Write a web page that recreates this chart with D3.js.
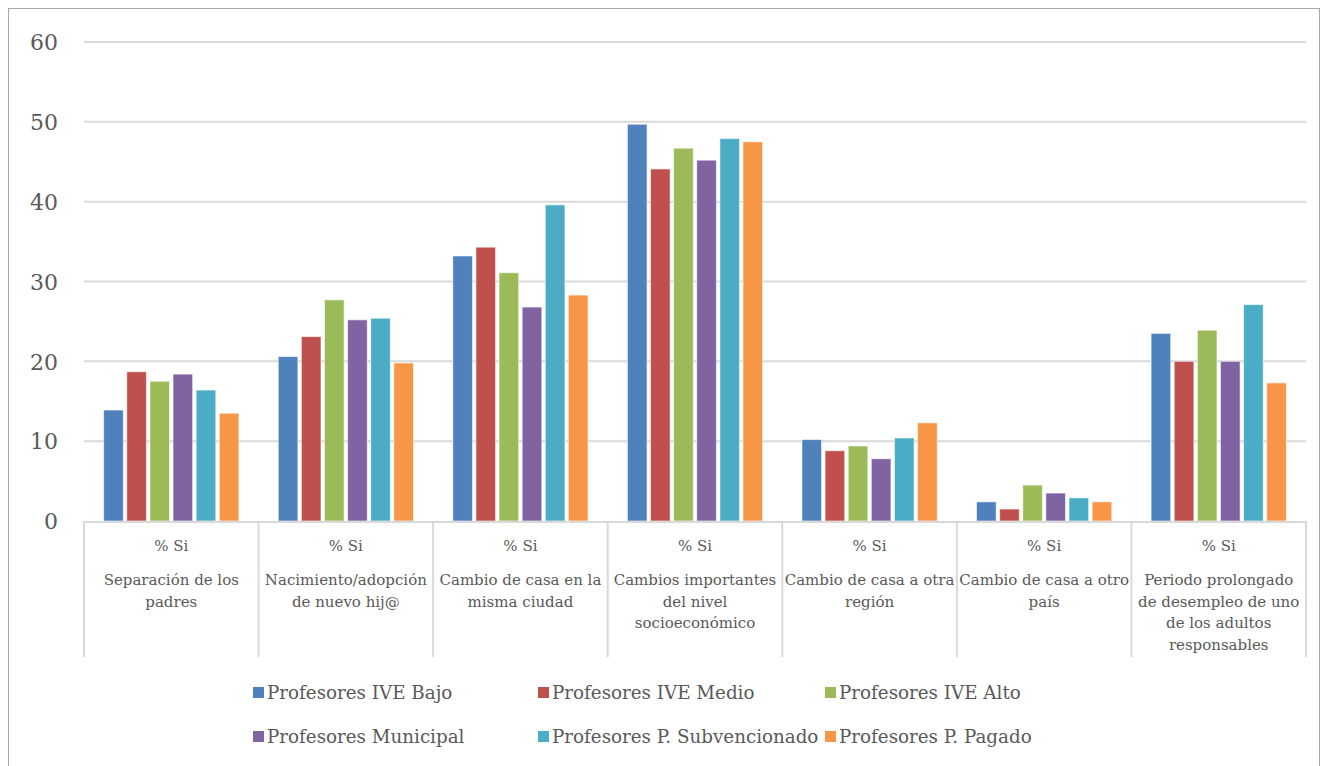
<!DOCTYPE html>
<html><head><meta charset="utf-8">
<script src="https://cdn.jsdelivr.net/npm/d3@7"></script>
<style>body{margin:0;background:#fff}svg{display:block}text{font-family:"DejaVu Serif","Liberation Serif",serif}</style>
</head><body><svg id="c" width="1327" height="766"></svg>
<script>
const categories = [
  ["% Si","Separación de los","padres"],
  ["% Si","Nacimiento/adopción","de nuevo hij@"],
  ["% Si","Cambio de casa en la","misma ciudad"],
  ["% Si","Cambios importantes","del nivel","socioeconómico"],
  ["% Si","Cambio de casa a otra","región"],
  ["% Si","Cambio de casa a otro","país"],
  ["% Si","Periodo prolongado","de desempleo de uno","de los adultos","responsables"]
];
const series = ["Profesores IVE Bajo","Profesores IVE Medio","Profesores IVE Alto","Profesores Municipal","Profesores P. Subvencionado","Profesores P. Pagado"];
const ivBajo   = [13.9, 20.6, 33.2, 49.7, 10.2, 2.4, 23.5];
const ivMedio  = [18.7, 23.1, 34.3, 44.1, 8.8, 1.5, 20.0];
const ivAlto   = [17.5, 27.7, 31.1, 46.7, 9.4, 4.5, 23.9];
const municipal= [18.4, 25.2, 26.8, 45.2, 7.8, 3.5, 20.0];
const subv     = [16.4, 25.4, 39.6, 47.9, 10.4, 2.9, 27.1];
const pagado   = [13.5, 19.8, 28.3, 47.5, 12.3, 2.4, 17.3];
const values = [ivBajo, ivMedio, ivAlto, municipal, subv, pagado];
const colors = ["#4f81bd","#c0504d","#9bbb59","#8064a2","#4bacc6","#f79646"];
const yTicks = [0,10,20,30,40,50,60];

const svg = d3.select("#c");
svg.append("rect").attr("x",8.5).attr("y",8.5).attr("width",1311).attr("height",780)
  .attr("fill","none").attr("stroke","#a6a6a6").attr("stroke-width",1);

const pL=84,pR=1306,pT=42,base=521;
const y = d3.scaleLinear().domain([0,60]).range([base,pT]);
const x0 = d3.scaleBand().domain(d3.range(categories.length)).range([pL,pR]).padding(0);
const x1 = d3.scaleBand().domain(d3.range(series.length)).range([0,x0.bandwidth()]).paddingInner(0.15).paddingOuter(0.85);

// gridlines
svg.append("g").selectAll("line").data(yTicks.filter(d=>d>0)).join("line")
  .attr("x1",pL).attr("x2",pR).attr("y1",d=>y(d)).attr("y2",d=>y(d))
  .attr("stroke","#d9d9d9").attr("stroke-width",2);

// y labels
const yAxis = d3.axisLeft(y).tickValues(yTicks).tickSize(0).tickPadding(0);
const ga = svg.append("g").attr("transform","translate(58,0)").call(yAxis);
ga.select(".domain").remove();
ga.selectAll("text").attr("font-size",22).attr("fill","#595959").attr("dy","0.35em");

// bars
const g = svg.append("g");
categories.forEach((c,ci)=>{
  series.forEach((s,si)=>{
    const v = values[si][ci];
    g.append("rect").attr("x",x0(ci)+x1(si)).attr("width",x1.bandwidth())
      .attr("y",y(v)).attr("height",base-y(v)).attr("fill",colors[si])
      .attr("stroke","#ffffff").attr("stroke-opacity",0.6).attr("stroke-width",1);
  });
});

// category table lines
const tg = svg.append("g");
tg.append("line").attr("x1",pL).attr("x2",pR).attr("y1",base+1).attr("y2",base+1).attr("stroke","#d9d9d9").attr("stroke-width",2);
d3.range(categories.length+1).forEach(i=>{
  const xx = i<categories.length ? x0(i) : pR;
  tg.append("line").attr("x1",xx).attr("x2",xx).attr("y1",base).attr("y2",657).attr("stroke","#d9d9d9").attr("stroke-width",2);
});
categories.forEach((c,ci)=>{
  const cx = x0(ci)+x0.bandwidth()/2;
  c.forEach((line,li)=>{
    const yy = li===0 ? 551 : 585 + (li-1)*21.5;
    tg.append("text").attr("x",cx).attr("y",yy).attr("text-anchor","middle")
      .attr("font-size",15).attr("fill","#595959").text(line);
  });
});

// legend
const legX = [253,538,825], legY=[693,737];
const lg = svg.append("g");
series.forEach((s,i)=>{
  const lx = legX[i%3], ly = legY[Math.floor(i/3)];
  lg.append("rect").attr("x",lx).attr("y",ly-6).attr("width",11).attr("height",11).attr("fill",colors[i]);
  lg.append("text").attr("x",lx+14).attr("y",ly).attr("dy","0.35em").attr("font-size",18.3)
    .attr("fill","#595959").text(s);
});
</script></body></html>
